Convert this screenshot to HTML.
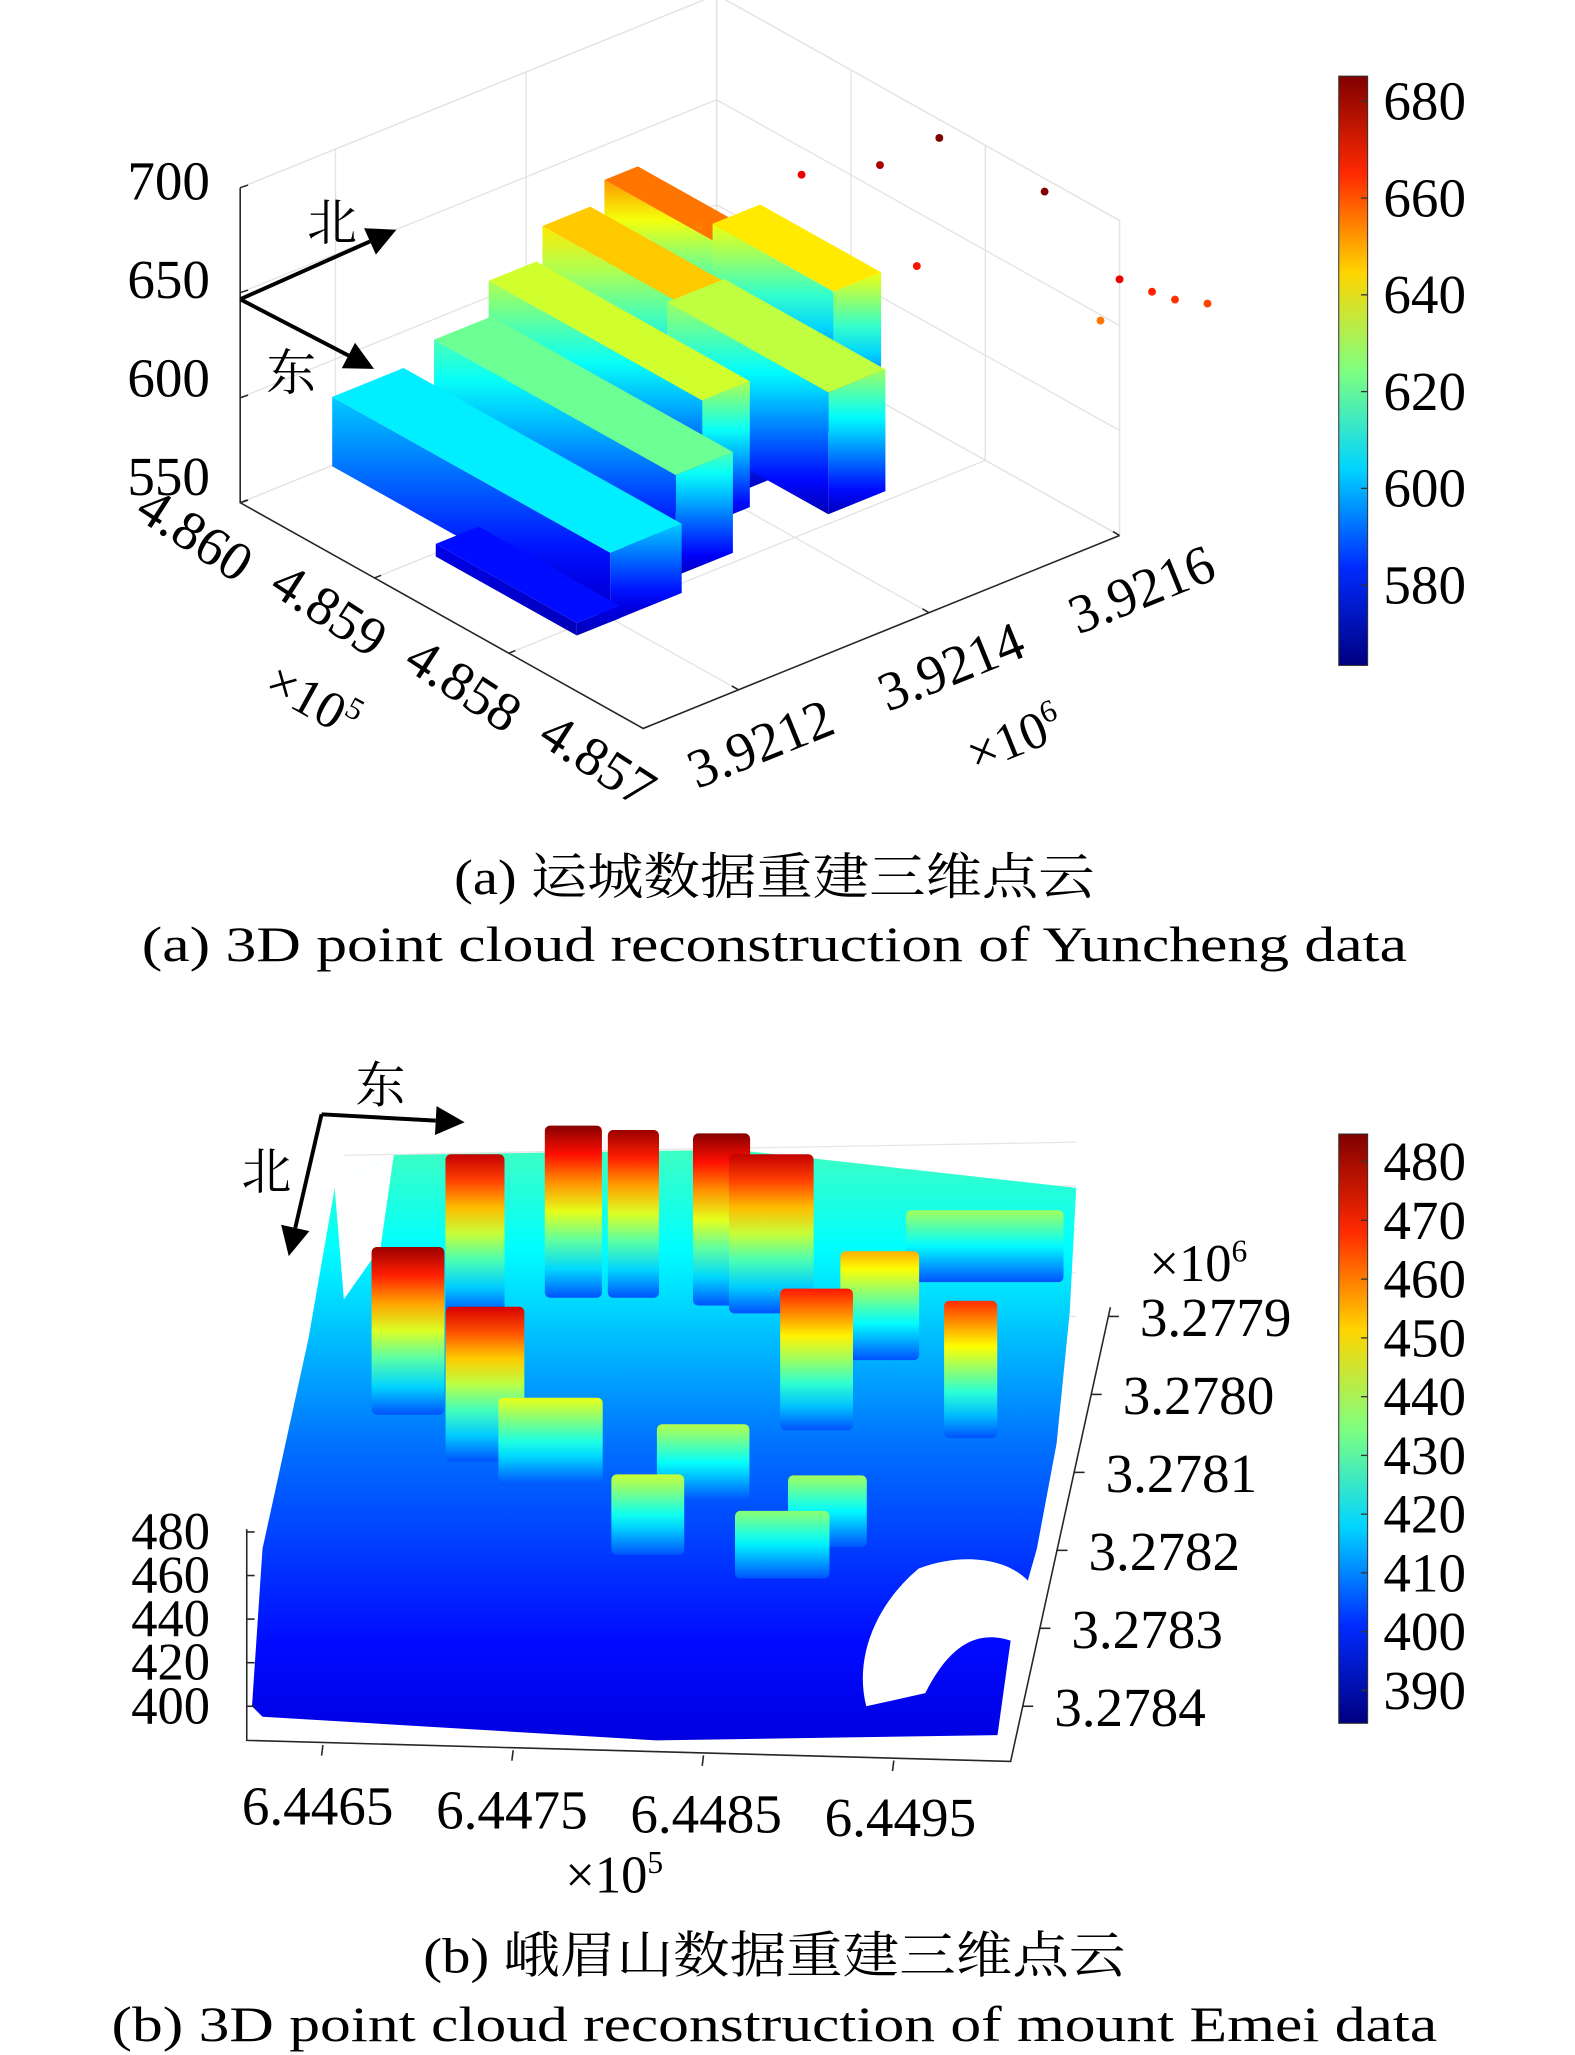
<!DOCTYPE html>
<html><head><meta charset="utf-8"><style>
html,body{margin:0;padding:0;background:#fff;}
svg{display:block;}
text{font-family:"Liberation Serif","Noto Serif CJK SC",serif;fill:#000;}
</style></head><body>
<svg id="fig" xmlns="http://www.w3.org/2000/svg" width="1575" height="2055" viewBox="0 0 1200 1565.7" preserveAspectRatio="none">
<defs id="defs"></defs>
<g id="topChart"></g>
<g id="botChart"></g>
<text x="590" y="681" text-anchor="middle" font-size="38" textLength="488" lengthAdjust="spacingAndGlyphs">(a) 运城数据重建三维点云</text>
<text x="590" y="732" text-anchor="middle" font-size="38" textLength="964" lengthAdjust="spacingAndGlyphs">(a) 3D point cloud reconstruction of Yuncheng data</text>
<text x="590" y="1503" text-anchor="middle" font-size="38" textLength="535" lengthAdjust="spacingAndGlyphs">(b) 峨眉山数据重建三维点云</text>
<text x="590" y="1555" text-anchor="middle" font-size="38" textLength="1010" lengthAdjust="spacingAndGlyphs">(b) 3D point cloud reconstruction of mount Emei data</text>
</svg>
<script>
// ---------- Top chart data (Yuncheng) ----------
const topZTicks = [550, 600, 650, 700];
const topETicks = [4.860, 4.859, 4.858, 4.857];
const topETickLabels = ['4.860', '4.859', '4.858', '4.857'];
const topNTicks = [3.9212, 3.9214, 3.9216];
const topNTickLabels = ['3.9212', '3.9214', '3.9216'];
const topCbTicks = [680, 660, 640, 620, 600, 580];
const topCbRange = [563.4, 685.2];
const blkE0 = [4.85967, 4.85865, 4.85955, 4.85964, 4.85970, 4.85970, 4.85895, 4.85925];
const blkE1 = [4.85760, 4.85760, 4.85775, 4.85805, 4.85820, 4.85880, 4.85775, 4.85835];
const blkN0 = [3.921150, 3.921115, 3.921240, 3.921310, 3.921375, 3.921440, 3.921400, 3.921490];
const blkN1 = [3.921225, 3.921160, 3.921300, 3.921360, 3.921425, 3.921475, 3.921460, 3.921540];
const blkZ = [603, 576, 618, 630, 642, 652, 628, 638];
const blkBase = 570;
const outE = [4.8582, 4.8585, 4.8588, 4.8577, 4.8578, 4.8570, 4.8569, 4.8568, 4.8567, 4.8570, 4.8590];
const outN = [3.92158, 3.92156, 3.92152, 3.92162, 3.92150, 3.92160, 3.92162, 3.92163, 3.92165, 3.92158, 3.92144];
const outZ = [700, 680, 672, 685, 668, 672, 666, 664, 662, 656, 655];

// ---------- Bottom chart data (Emei) ----------
const botZTicks = [400, 420, 440, 460, 480];
const botETicks = [6.4465, 6.4475, 6.4485, 6.4495];
const botETickLabels = ['6.4465', '6.4475', '6.4485', '6.4495'];
const botNTicks = [3.2779, 3.2780, 3.2781, 3.2782, 3.2783, 3.2784];
const botNTickLabels = ['3.2779', '3.2780', '3.2781', '3.2782', '3.2783', '3.2784'];
const botCbTicks = [480, 470, 460, 450, 440, 430, 420, 410, 400, 390];
const botCbRange = [384.4, 484.7];
const bldA0 = [6.44647, 6.44689, 6.44724, 6.44756, 6.44800, 6.44819, 6.44675, 6.44856, 6.44940, 6.44718, 6.44800, 6.44847, 6.44871, 6.44782, 6.44880, 6.44906];
const bldA1 = [6.44684, 6.44729, 6.44753, 6.44782, 6.44829, 6.44862, 6.44705, 6.44893, 6.44967, 6.44771, 6.44847, 6.44895, 6.44911, 6.44819, 6.44920, 6.44986];
const bldB = [3.27804, 3.27810, 3.27789, 3.27789, 3.27790, 3.27791, 3.27791, 3.27806, 3.27807, 3.27813, 3.27815, 3.27825, 3.27821, 3.27822, 3.27797, 3.27787];
const bldZ = [482, 476, 484, 482, 484, 478, 478, 470, 468, 445, 440, 436, 438, 442, 455, 438];
const bldBase = 405;

const NS = 'http://www.w3.org/2000/svg';
const defs = document.getElementById('defs');
let gid = 0;
function el(tag, attrs, parent) {
  const e = document.createElementNS(NS, tag);
  for (const k in attrs) e.setAttribute(k, attrs[k]);
  parent.appendChild(e);
  return e;
}
function jet(t) {
  t = Math.max(0, Math.min(1, t));
  const c = x => Math.round(255 * Math.max(0, Math.min(1, x)));
  return 'rgb(' + c(1.5 - Math.abs(4 * t - 3)) + ',' + c(1.5 - Math.abs(4 * t - 2)) + ',' + c(1.5 - Math.abs(4 * t - 1)) + ')';
}
function grad(zTop, zBot, range) {
  const id = 'g' + (gid++);
  const g = el('linearGradient', {id: id, x1: 0, y1: 0, x2: 0, y2: 1}, defs);
  for (let i = 0; i <= 6; i++) {
    const z = zTop + (zBot - zTop) * i / 6;
    el('stop', {offset: i / 6, 'stop-color': jet((z - range[0]) / (range[1] - range[0]))}, g);
  }
  return 'url(#' + id + ')';
}
function pts(a) { return a.map(p => p[0].toFixed(1) + ',' + p[1].toFixed(1)).join(' '); }

// ================= TOP CHART =================
const T = document.getElementById('topChart');
const uOf = e => (4.860 - e) / 0.003;
const vOf = n => (n - 3.9211) / 0.0005;
function P(u, v, z) { return [183 + 307 * u + 363 * v, 383 + 172 * u - 147 * v - 1.6 * (z - 550)]; }
const gridG = el('g', {stroke: '#e3e3e3', 'stroke-width': 1, fill: 'none'}, T);


topZTicks.forEach(z => {
  el('polyline', {points: pts([P(0, 0, z), P(0, 1, z), P(1, 1, z)])}, gridG);
});
topETicks.forEach(e => {
  const u = uOf(e);
  el('polyline', {points: pts([P(u, 0, 550), P(u, 1, 550), P(u, 1, 700)])}, gridG);
});
topNTicks.forEach(n => {
  const v = vOf(n);
  el('polyline', {points: pts([P(1, v, 550), P(0, v, 550), P(0, v, 700)])}, gridG);
});
el('polyline', {points: pts([P(0, 1, 550), P(0, 1, 700)])}, gridG);
el('polyline', {points: pts([P(1, 1, 550), P(1, 1, 700)])}, gridG);
el('polyline', {points: pts([P(0, 0, 700), P(0, 1, 700), P(1, 1, 700)])}, gridG);
const axT = el('g', {stroke: '#262626', 'stroke-width': 1.2, fill: 'none'}, T);


el('polyline', {points: pts([P(0, 0, 700), P(0, 0, 550), P(1, 0, 550), P(1, 1, 550)])}, axT);
topZTicks.forEach(z => {
  const p = P(0, 0, z);
  el('line', {x1: p[0], y1: p[1], x2: p[0] + 6, y2: p[1] - 2}, axT);
  const t = el('text', {x: 160, y: 152 + (700 - z) * 1.5, 'text-anchor': 'end', 'font-size': 42, stroke: 'none'}, T);
  t.textContent = z;
  
  
});
topETicks.forEach((e, i) => {
  const p = P(uOf(e), 0, 550);
  el('line', {x1: p[0], y1: p[1], x2: p[0] + 5, y2: p[1] - 2}, axT);
  const x = p[0] - 42, y = p[1] + 36;
  const t = el('text', {x: x, y: y, 'text-anchor': 'middle', 'font-size': 42, transform: 'rotate(33 ' + x + ' ' + y + ')'}, T);
  t.textContent = topETickLabels[i];
  
  
});
topNTicks.forEach((n, i) => {
  const p = P(1, vOf(n), 550);
  el('line', {x1: p[0], y1: p[1], x2: p[0] - 5, y2: p[1] - 3}, axT);
  const x = p[0] + 22, y = p[1] + 54;
  const t = el('text', {x: x, y: y, 'text-anchor': 'middle', 'font-size': 42, transform: 'rotate(-22 ' + x + ' ' + y + ')'}, T);
  t.textContent = topNTickLabels[i];
  
  
});
{
  const t = el('text', {x: 232, y: 545, 'text-anchor': 'middle', 'font-size': 40, transform: 'rotate(29 232 545)'}, T);
  t.innerHTML = '×10<tspan font-size="24" dy="-15">5</tspan>';
  
  
  const t2 = el('text', {x: 778, y: 575, 'text-anchor': 'middle', 'font-size': 40, transform: 'rotate(-22 778 575)'}, T);
  t2.innerHTML = '×10<tspan font-size="24" dy="-15">6</tspan>';
  
  
}
const order = blkZ.map((_, i) => i).sort((a, b) => (uOf(blkE1[a]) - vOf(blkN0[a])) - (uOf(blkE1[b]) - vOf(blkN0[b])));
order.forEach(i => {
  const u0 = uOf(blkE0[i]), u1 = uOf(blkE1[i]), v0 = vOf(blkN0[i]), v1 = vOf(blkN1[i]), zt = blkZ[i];
  const g = el('g', {}, T);
  
  
  const fill = grad(zt, blkBase, topCbRange);
  el('polygon', {points: pts([P(u1, v0, zt), P(u1, v1, zt), P(u1, v1, blkBase), P(u1, v0, blkBase)]), fill: fill}, g);
  el('polygon', {points: pts([P(u0, v0, zt), P(u1, v0, zt), P(u1, v0, blkBase), P(u0, v0, blkBase)]), fill: fill}, g);
  el('polygon', {points: pts([P(u0, v0, zt), P(u1, v0, zt), P(u1, v1, zt), P(u0, v1, zt)]), fill: jet((zt + 4 - topCbRange[0]) / (topCbRange[1] - topCbRange[0]))}, g);
});
outE.forEach((e, i) => {
  const p = P(uOf(e), vOf(outN[i]), outZ[i]);
  const c = el('circle', {cx: p[0], cy: p[1], r: 3, fill: jet((outZ[i] - topCbRange[0]) / (topCbRange[1] - topCbRange[0]))}, T);
  
  
});
function arrow(parent, x1, y1, x2, y2, name) {
  const g = el('g', {}, parent);
  
  
  const a = Math.atan2(y2 - y1, x2 - x1), L = 22, W = 11;
  const bx = x2 - L * Math.cos(a), by = y2 - L * Math.sin(a);
  el('line', {x1: x1, y1: y1, x2: bx, y2: by, stroke: '#000', 'stroke-width': 3}, g);
  el('polygon', {points: pts([[x2, y2], [bx - W * Math.sin(a), by + W * Math.cos(a)], [bx + W * Math.sin(a), by - W * Math.cos(a)]]), fill: '#000'}, g);
}
arrow(T, 183, 228, 302, 175, 'north-arrow');
arrow(T, 183, 228, 285, 281, 'east-arrow');
{
  const t = el('text', {x: 253, y: 183, 'text-anchor': 'middle', 'font-size': 38}, T);
  t.textContent = '北';
  
  
  const t2 = el('text', {x: 222, y: 297, 'text-anchor': 'middle', 'font-size': 38}, T);
  t2.textContent = '东';
  
  
}
function colorbar(parent, x, yTop, yBot, range, ticks, name) {
  const g = el('g', {}, parent);
  
  
  el('rect', {x: x, y: yTop, width: 22, height: yBot - yTop, fill: grad(range[1], range[0], range), stroke: '#333', 'stroke-width': 0.8}, g);
  ticks.forEach(v => {
    const y = yBot - (v - range[0]) / (range[1] - range[0]) * (yBot - yTop);
    el('line', {x1: x + 17, y1: y, x2: x + 22, y2: y, stroke: '#333', 'stroke-width': 1}, g);
    const t = el('text', {x: x + 34, y: y + 14, 'font-size': 42}, g);
    t.textContent = v;
    
    
  });
}
colorbar(T, 1020, 58, 507, topCbRange, topCbTicks, 'top-colorbar');

// ================= BOTTOM CHART =================
const B = document.getElementById('botChart');
const yb = b => 1300 - (3.2784 - b) * 594000;
const xa = (a, b) => 248 + (a - 6.4465) * 150000 + 110000 * (3.2784 - b);
const zp = z => 1.66 * (z - 400);
const gG = el('g', {stroke: '#e6e6e6', 'stroke-width': 1, fill: 'none'}, B);


botZTicks.forEach(z => { el('line', {x1: 262, y1: 880 - zp(z) + 133, x2: 820, y2: 880 - zp(z) + 133 - 10}, gG); });
const ground = el('polygon', {points: '192,1300 200,1180 235,1020 255,905 300,880 560,876 820,905 815,1000 805,1100 790,1180 770,1250 760,1322 500,1326 200,1308', fill: 'none'}, B);
{
  const id = 'gground';
  const g = el('linearGradient', {id: id, x1: 0, y1: 0, x2: 0, y2: 1}, defs);
  const zs = [428, 422, 415, 408, 403, 398, 394];
  zs.forEach((z, i) => el('stop', {offset: i / (zs.length - 1), 'stop-color': jet((z - botCbRange[0]) / (botCbRange[1] - botCbRange[0]))}, g));
  ground.setAttribute('fill', 'url(#gground)');
}


const holes = el('g', {fill: '#fff'}, B);


el('path', {d: 'M700,1195 C740,1180 780,1190 790,1215 L770,1250 C740,1240 720,1260 705,1290 L660,1300 C650,1260 670,1220 700,1195Z'}, holes);
el('path', {d: 'M790,1180 L810,1150 L805,1230 L785,1240Z'}, holes);
el('path', {d: 'M255,905 L300,880 L290,950 L262,990Z'}, holes);
const bOrder = bldZ.map((_, i) => i).sort((p, q) => bldB[p] - bldB[q]);
bOrder.forEach(i => {
  const b = bldB[i], x0 = xa(bldA0[i], b), x1 = xa(bldA1[i], b);
  const yTop = yb(b) - zp(bldZ[i]), yBot = yb(b) - zp(bldBase);
  const r = el('rect', {x: x0, y: yTop, width: x1 - x0, height: yBot - yTop, rx: 4, fill: grad(bldZ[i], bldBase, botCbRange)}, B);
  
  
});
const axB = el('g', {stroke: '#262626', 'stroke-width': 1.2, fill: 'none'}, B);


el('polyline', {points: '188,1165 188,1326 770,1342 846,996'}, axB);
botZTicks.forEach(z => {
  const y = 1300 - zp(z);
  el('line', {x1: 188, y1: y, x2: 194, y2: y}, axB);
  const t = el('text', {x: 160, y: y + 13, 'text-anchor': 'end', 'font-size': 40, stroke: 'none'}, B);
  t.textContent = z;
  
  
});
botETicks.forEach((a, i) => {
  const x = 188 + (a - 6.4461) * 145000;
  el('line', {x1: x, y1: 1328 + (x - 188) * 0.027, x2: x - 1, y2: 1336 + (x - 188) * 0.027}, axB);
  const t = el('text', {x: x - 4 + i * 3, y: 1390 + i * 3, 'text-anchor': 'middle', 'font-size': 42}, B);
  t.textContent = botETickLabels[i];
  
  
});
botNTicks.forEach((n, i) => {
  const y = yb(n);
  const x = 770 + (1342 - y) * (76 / 346);
  el('line', {x1: x, y1: y, x2: x + 8, y2: y}, axB);
  const t = el('text', {x: x + 24, y: y + 15, 'font-size': 42}, B);
  t.textContent = botNTickLabels[i];
  
  
});
{
  const t = el('text', {x: 468, y: 1442, 'text-anchor': 'middle', 'font-size': 40}, B);
  t.innerHTML = '×10<tspan font-size="24" dy="-15">5</tspan>';
  
  
  const t2 = el('text', {x: 913, y: 976, 'text-anchor': 'middle', 'font-size': 40}, B);
  t2.innerHTML = '×10<tspan font-size="24" dy="-15">6</tspan>';
  
  
}
arrow(B, 245, 849, 354, 855, 'east-arrow-b');
arrow(B, 245, 849, 220, 957, 'north-arrow-b');
{
  const t = el('text', {x: 290, y: 840, 'text-anchor': 'middle', 'font-size': 38}, B);
  t.textContent = '东';
  
  
  const t2 = el('text', {x: 203, y: 906, 'text-anchor': 'middle', 'font-size': 38}, B);
  t2.textContent = '北';
  
  
}
colorbar(B, 1020, 864, 1313, botCbRange, botCbTicks, 'bottom-colorbar');
</script>
</body></html>
